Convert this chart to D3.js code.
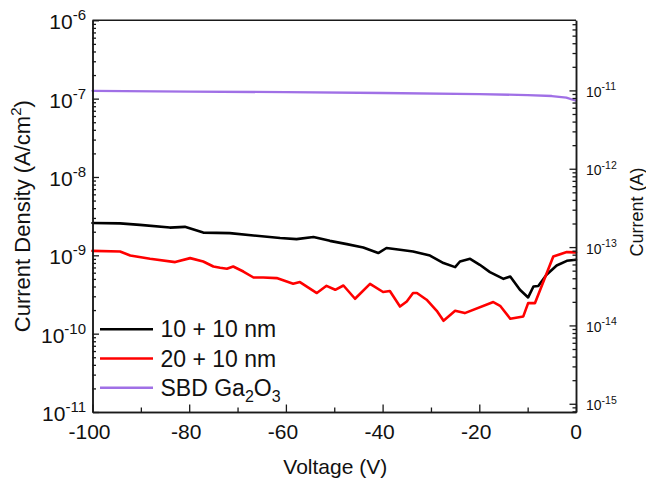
<!DOCTYPE html>
<html>
<head>
<meta charset="utf-8">
<script src="https://cdn.jsdelivr.net/npm/d3@7"></script>
<style>
  html, body { margin: 0; padding: 0; background: #fff; }
  svg { display: block; font-family: "Liberation Sans", Arial, sans-serif; }
</style>
</head>
<body>
<svg id="chart" width="646" height="480"></svg>
<script>
// Reverse-bias J–V sweeps (A/cm²) for the two stacks and the reference Schottky diode
const voltage10 = [-100, -94.3, -90.2, -84.0, -80.9, -77.1, -71.6, -66.7, -61.2, -57.8, -54.3, -50.9,
  -47.4, -44.0, -40.9, -39.2, -36.4, -33.7, -30.2, -27.4, -25.0, -24.0, -21.9, -19.9, -17.8,
  -15.0, -13.6, -11.6, -9.9, -8.8, -7.8, -6.1, -4.0, -1.9, 0];
const density10 = [2.58e-9, 2.56e-9, 2.45e-9, 2.26e-9, 2.31e-9, 1.95e-9, 1.92e-9, 1.79e-9, 1.66e-9,
  1.61e-9, 1.71e-9, 1.53e-9, 1.39e-9, 1.26e-9, 1.07e-9, 1.24e-9, 1.18e-9, 1.12e-9, 9.94e-10,
  7.96e-10, 7.07e-10, 8.34e-10, 9.02e-10, 7.57e-10, 6.11e-10, 5.01e-10, 5.37e-10, 3.63e-10,
  2.90e-10, 4.00e-10, 4.06e-10, 5.64e-10, 7.41e-10, 8.51e-10, 8.77e-10];

const voltage20 = [-100, -94.3, -92.2, -88.1, -82.9, -79.8, -77.1, -75.0, -73.6, -72.2, -70.9, -68.8,
  -66.7, -64.7, -61.9, -58.5, -57.1, -53.6, -51.6, -49.8, -48.1, -45.7, -42.6, -39.9, -38.5,
  -36.4, -35.0, -33.7, -32.9, -30.9, -28.8, -27.4, -25.0, -23.0, -17.1, -15.7, -13.6, -10.9,
  -9.9, -8.5, -4.7, -1.9, 0];
const density20 = [1.14e-9, 1.12e-9, 9.94e-10, 9.02e-10, 8.19e-10, 9.21e-10, 8.34e-10, 7.20e-10,
  6.93e-10, 6.73e-10, 7.20e-10, 6.21e-10, 5.21e-10, 5.21e-10, 5.12e-10, 4.33e-10, 4.55e-10,
  3.30e-10, 4.08e-10, 3.63e-10, 4.12e-10, 2.79e-10, 4.33e-10, 3.40e-10, 3.50e-10, 2.22e-10,
  2.58e-10, 3.30e-10, 3.30e-10, 2.71e-10, 1.96e-10, 1.46e-10, 1.96e-10, 1.83e-10, 2.53e-10,
  2.27e-10, 1.55e-10, 1.66e-10, 2.45e-10, 2.45e-10, 9.66e-10, 1.10e-9, 1.09e-9];

const voltageSBD = [-100, -80, -60, -40, -20, -10, -5, -2, 0];
const densitySBD = [1.26e-7, 1.23e-7, 1.21e-7, 1.18e-7, 1.14e-7, 1.11e-7, 1.08e-7, 1.03e-7, 9.4e-8];

// Device area (cm²) linking current density to current on the right axis
const deviceArea = 7.85e-5;

const seriesNames = ["10 + 10 nm", "20 + 10 nm", "SBD Ga2O3"];
const seriesColors = ["#000000", "#ff0000", "#a070e6"];

const xMajorTicks = [-100, -80, -60, -40, -20, 0];
const xMinorTicks = [-90, -70, -50, -30, -10];
const leftExponents = [-11, -10, -9, -8, -7, -6];
const rightExponents = [-15, -14, -13, -12, -11];

const xTitle = "Voltage (V)";
const leftTitle = "Current Density (A/cm";
const rightTitle = "Current (A)";

// Plot frame
const L = 92.5, R = 576, T = 20.3, B = 412;

const svg = d3.select("#chart");

const x = d3.scaleLinear().domain([-100, 0]).range([L, R]);
const y = d3.scaleLog().domain([1e-11, 1e-6]).range([B, T]);
const yR = d3.scaleLog().domain([1e-11 * deviceArea, 1e-6 * deviceArea]).range([B, T]);

const axisColor = "#1a1a1a";

function styleAxis(g) {
  g.selectAll("path").attr("stroke", axisColor).attr("stroke-width", 1.5);
  g.selectAll("line").attr("stroke", axisColor).attr("stroke-width", 1.3);
  g.selectAll("text").remove();
}

// Curves
const series = [
  { v: voltage10, j: density10, color: seriesColors[0], w: 2.6 },
  { v: voltage20, j: density20, color: seriesColors[1], w: 2.6 },
  { v: voltageSBD, j: densitySBD, color: seriesColors[2], w: 2.3 }
];
const line = d3.line().x(d => x(d[0])).y(d => y(d[1]));
const curves = svg.append("g");
[series[2], series[0], series[1]].forEach(s => {
  curves.append("path")
    .datum(s.v.map((v, i) => [v, s.j[i]]))
    .attr("d", line)
    .attr("fill", "none")
    .attr("stroke", s.color)
    .attr("stroke-width", s.w)
    .attr("stroke-linejoin", "round")
    .attr("stroke-linecap", "round");
});

// Top frame edge
svg.append("line")
  .attr("x1", L).attr("x2", R).attr("y1", T).attr("y2", T)
  .attr("stroke", axisColor).attr("stroke-width", 1.5);

// Bottom axis
svg.append("g").attr("transform", `translate(0,${B})`)
  .call(d3.axisBottom(x).tickValues(xMinorTicks).tickSizeInner(-4.5).tickSizeOuter(0))
  .call(styleAxis);
svg.append("g").attr("transform", `translate(0,${B})`)
  .call(d3.axisBottom(x).tickValues(xMajorTicks).tickSizeInner(-7.5).tickSizeOuter(0))
  .call(styleAxis);

xMajorTicks.forEach(t => {
  svg.append("text")
    .attr("x", x(t) - (t < 0 ? 3 : 0)).attr("y", B + 27)
    .attr("text-anchor", "middle")
    .attr("font-size", 21).attr("fill", "#111")
    .text(t);
});

// Left axis (log, with minor ticks)
const leftMajor = leftExponents.map(e => Math.pow(10, e));
const leftMinor = y.ticks().filter(v => Math.abs(Math.log10(v) - Math.round(Math.log10(v))) > 1e-6);
svg.append("g").attr("transform", `translate(${L},0)`)
  .call(d3.axisLeft(y).tickValues(leftMinor).tickSizeInner(-3.5).tickSizeOuter(0))
  .call(styleAxis);
svg.append("g").attr("transform", `translate(${L},0)`)
  .call(d3.axisLeft(y).tickValues(leftMajor).tickSizeInner(-6.5).tickSizeOuter(0))
  .call(styleAxis);

leftExponents.forEach(e => {
  const t = svg.append("text")
    .attr("x", 86).attr("y", y(Math.pow(10, e)) + 9)
    .attr("text-anchor", "end").attr("font-size", 21).attr("fill", "#111");
  t.append("tspan").text("10");
  t.append("tspan").attr("dy", -9).attr("font-size", 15).text(String(e));
});

// Right axis: current through the device
const rMin = yR.domain()[0], rMax = yR.domain()[1];
const rightMajor = rightExponents.map(e => Math.pow(10, e));
const rightMinor = [];
for (let e = -16; e <= -10; e++) {
  for (let k = 2; k <= 9; k++) {
    const v = k * Math.pow(10, e);
    if (v >= rMin && v <= rMax) rightMinor.push(v);
  }
}
svg.append("g").attr("transform", `translate(${R},0)`)
  .call(d3.axisRight(yR).tickValues(rightMinor).tickSizeInner(-3.5).tickSizeOuter(0))
  .call(styleAxis);
svg.append("g").attr("transform", `translate(${R},0)`)
  .call(d3.axisRight(yR).tickValues(rightMajor).tickSizeInner(-6.5).tickSizeOuter(0))
  .call(styleAxis);

rightExponents.forEach(e => {
  const t = svg.append("text")
    .attr("x", 586).attr("y", yR(Math.pow(10, e)) + 6.5)
    .attr("text-anchor", "start").attr("font-size", 14).attr("fill", "#111");
  t.append("tspan").text("10");
  t.append("tspan").attr("dy", -6.5).attr("font-size", 10.5).text(String(e));
});

// Axis titles
svg.append("text")
  .attr("x", (L + R) / 2 + 1).attr("y", 474)
  .attr("text-anchor", "middle").attr("font-size", 21).attr("fill", "#111")
  .text(xTitle);

const lt = svg.append("text")
  .attr("transform", `translate(30,${(T + B) / 2 + 0}) rotate(-90)`)
  .attr("text-anchor", "middle").attr("font-size", 22).attr("fill", "#111");
lt.append("tspan").text(leftTitle);
lt.append("tspan").attr("dy", -9).attr("font-size", 15).text("2");
lt.append("tspan").attr("dy", 9).text(")");

svg.append("text")
  .attr("transform", `translate(643,${212}) rotate(-90)`)
  .attr("text-anchor", "middle").attr("font-size", 18).attr("fill", "#111")
  .text(rightTitle);

// Legend
const legend = svg.append("g");
series.forEach((s, i) => {
  const ly = 329.3 + i * 29.2;
  legend.append("line")
    .attr("x1", 100).attr("x2", 153).attr("y1", ly).attr("y2", ly)
    .attr("stroke", s.color).attr("stroke-width", 2.6);
  const t = legend.append("text")
    .attr("x", 160.5).attr("y", ly + 8)
    .attr("font-size", 23).attr("fill", "#111");
  if (i === 2) {
    t.append("tspan").text("SBD Ga");
    t.append("tspan").attr("dy", 6).attr("font-size", 16).text("2");
    t.append("tspan").attr("dy", -6).text("O");
    t.append("tspan").attr("dy", 6).attr("font-size", 16).text("3");
  } else {
    t.text(seriesNames[i]);
  }
});
</script>
</body>
</html>
